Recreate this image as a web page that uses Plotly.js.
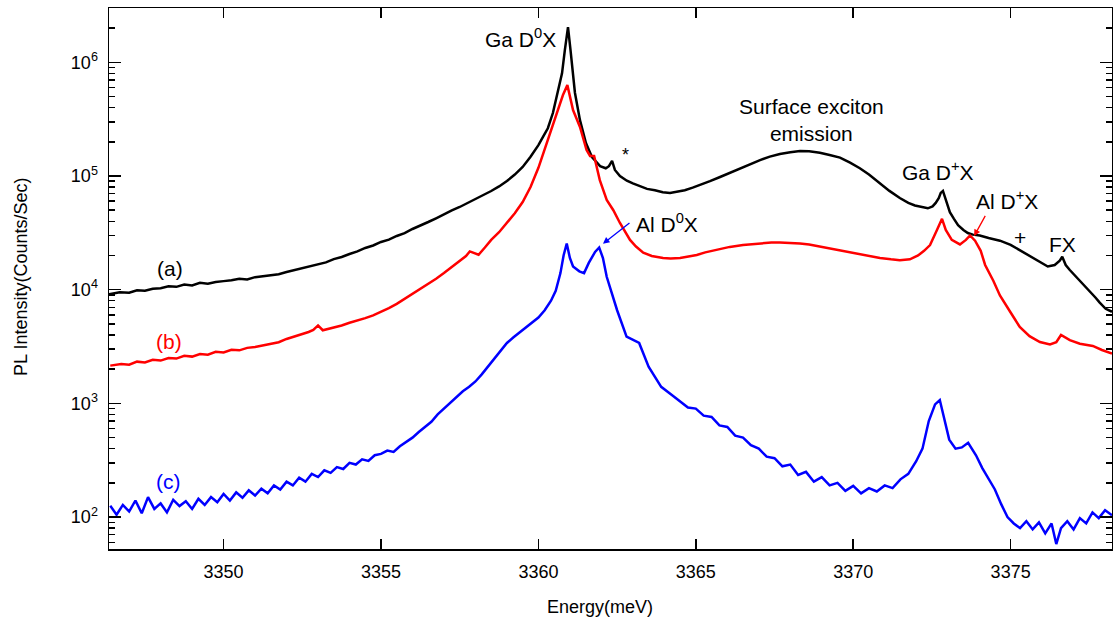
<!DOCTYPE html>
<html>
<head>
<meta charset="utf-8">
<script src="https://cdn.plot.ly/plotly-3.0.1.min.js"></script>
<style>html,body{margin:0;padding:0;background:#fff;}#chart{width:1113px;height:627px;}</style>
</head>
<body>
<div id="chart"></div>
<script>
// ---- Data (Energy in meV, PL intensity in counts/sec) ----
const energyA = [3346.36,3346.7,3347.0,3347.25,3347.5,3347.75,3348.0,3348.25,3348.5,3348.75,3349.0,3349.25,3349.5,3349.75,3350.0,3350.25,3350.5,3350.75,3351.0,3351.25,3351.5,3351.75,3352.0,3352.25,3352.5,3352.75,3353.0,3353.25,3353.5,3353.75,3354.0,3354.25,3354.5,3354.75,3355.0,3355.25,3355.5,3355.75,3356.0,3356.25,3356.5,3356.75,3357.0,3357.25,3357.5,3357.75,3358.0,3358.25,3358.5,3358.75,3359.0,3359.25,3359.5,3359.75,3360.0,3360.15,3360.30,3360.46,3360.62,3360.75,3360.84,3360.94,3361.02,3361.10,3361.16,3361.32,3361.51,3361.70,3361.96,3362.14,3362.24,3362.34,3362.43,3362.59,3362.81,3363.0,3363.22,3363.45,3363.70,3363.95,3364.18,3364.4,3364.65,3364.9,3365.13,3365.45,3365.77,3366.1,3366.40,3366.7,3367.04,3367.35,3367.67,3368.0,3368.31,3368.6,3368.94,3369.25,3369.58,3369.9,3370.21,3370.5,3370.85,3371.15,3371.48,3371.75,3371.96,3372.2,3372.37,3372.52,3372.62,3372.72,3372.78,3372.85,3372.94,3373.07,3373.2,3373.33,3373.5,3373.64,3373.8,3374.02,3374.3,3374.66,3375.0,3375.29,3375.6,3375.93,3376.18,3376.40,3376.56,3376.64,3376.75,3376.88,3377.05,3377.20,3377.35,3377.52,3377.7,3377.83,3378.02,3378.22];
const intensityA = [9100,9500,9400,9900,9800,10200,10300,10700,10600,11100,10900,11500,11300,11700,11900,12100,12500,12300,12900,13200,13500,13700,14300,14900,15500,16100,16800,17400,18600,19400,20600,21700,23300,24500,26300,27600,29700,31500,34200,36500,39400,42500,46300,49800,53400,57800,62800,67900,73800,81000,90300,103000,120000,148000,187000,222000,263000,358000,540000,800000,1280000,2040000,1280000,770000,540000,310000,195000,147000,122000,117000,122000,136000,113000,100000,91000,86000,82000,77000,75000,72000,71000,72500,75000,79000,83000,90000,98000,107000,117000,127000,138000,148000,156000,162000,166000,165000,160000,153000,145000,131000,117000,103000,86000,74000,64000,58000,55000,53000,52000,54000,58000,64000,71000,74000,61500,48000,42000,37000,33500,31500,30500,30000,28500,27000,24800,22300,20000,17500,16000,16500,18000,19500,16500,14900,13300,12000,10800,9600,8500,7700,6800,6400];

const energyB = [3346.4,3346.75,3347.0,3347.25,3347.5,3347.75,3348.0,3348.25,3348.5,3348.75,3349.0,3349.25,3349.5,3349.75,3350.0,3350.25,3350.5,3350.75,3351.0,3351.25,3351.5,3351.75,3352.0,3352.25,3352.5,3352.7,3352.85,3353.0,3353.15,3353.35,3353.5,3353.75,3354.0,3354.25,3354.5,3354.75,3355.0,3355.25,3355.5,3355.75,3356.0,3356.25,3356.5,3356.75,3357.0,3357.25,3357.5,3357.7,3357.82,3357.95,3358.1,3358.3,3358.5,3358.75,3359.0,3359.25,3359.5,3359.75,3360.0,3360.21,3360.43,3360.62,3360.78,3360.92,3361.0,3361.1,3361.32,3361.53,3361.64,3361.77,3361.95,3362.17,3362.38,3362.59,3362.91,3363.1,3363.33,3363.6,3363.96,3364.2,3364.50,3364.75,3365.03,3365.3,3365.6,3366.08,3366.5,3367.04,3367.4,3367.67,3368.0,3368.31,3368.6,3368.94,3369.4,3369.89,3370.35,3370.85,3371.2,3371.48,3371.8,3372.06,3372.25,3372.44,3372.66,3372.82,3372.94,3373.13,3373.39,3373.58,3373.71,3373.87,3374.05,3374.19,3374.45,3374.66,3375.0,3375.29,3375.6,3375.93,3376.25,3376.45,3376.6,3376.75,3376.88,3377.2,3377.61,3377.9,3378.22];
const intensityB = [2150,2220,2190,2330,2290,2420,2380,2510,2480,2620,2580,2720,2680,2840,2810,2960,2930,3080,3140,3240,3330,3450,3690,3870,4100,4250,4430,4850,4400,4550,4620,4850,5120,5350,5630,5950,6370,6900,7500,8300,9170,10100,11200,12500,14000,15800,17900,19800,21700,21000,20300,23500,27400,32000,38600,47000,59000,80000,118000,176000,263000,380000,515000,630000,515000,380000,270000,169000,150000,150000,92000,61500,50000,38600,27400,24000,21200,19800,19000,18800,19000,19600,20200,21300,22300,23800,24700,25500,26000,26000,25800,25500,25000,24000,22700,21500,20200,19000,18500,18200,18500,20000,22000,24700,33500,42000,33500,27400,25000,27400,30000,27000,22000,16500,12000,8900,6300,4700,3900,3470,3300,3450,4000,3800,3600,3350,3200,2950,2750];

const energyC = [3346.4,3346.6,3346.8,3347.0,3347.2,3347.4,3347.6,3347.8,3348.0,3348.2,3348.4,3348.6,3348.8,3349.0,3349.2,3349.4,3349.6,3349.8,3350.0,3350.2,3350.4,3350.6,3350.8,3351.0,3351.2,3351.4,3351.6,3351.8,3352.0,3352.2,3352.4,3352.6,3352.8,3353.0,3353.2,3353.4,3353.6,3353.8,3354.0,3354.2,3354.4,3354.6,3354.8,3355.0,3355.2,3355.4,3355.6,3355.8,3356.0,3356.2,3356.4,3356.6,3356.8,3357.0,3357.2,3357.4,3357.6,3357.8,3358.0,3358.2,3358.4,3358.6,3358.8,3359.0,3359.2,3359.4,3359.6,3359.8,3360.0,3360.2,3360.4,3360.55,3360.7,3360.8,3360.9,3361.0,3361.1,3361.3,3361.45,3361.6,3361.8,3361.93,3362.05,3362.17,3362.5,3362.8,3363.2,3363.5,3363.9,3364.3,3364.5,3364.75,3365.0,3365.25,3365.5,3365.75,3366.0,3366.25,3366.5,3366.75,3367.0,3367.25,3367.5,3367.75,3368.0,3368.25,3368.5,3368.75,3369.0,3369.25,3369.5,3369.75,3370.0,3370.25,3370.5,3370.75,3371.0,3371.25,3371.5,3371.75,3372.0,3372.2,3372.4,3372.6,3372.75,3372.9,3373.05,3373.25,3373.45,3373.65,3373.9,3374.1,3374.3,3374.5,3374.7,3374.9,3375.1,3375.3,3375.5,3375.7,3375.9,3376.1,3376.3,3376.45,3376.6,3376.8,3377.0,3377.2,3377.4,3377.6,3377.8,3378.0,3378.22];
const intensityC = [126,105,128,112,140,108,150,118,132,110,142,125,138,118,145,128,150,135,160,140,165,148,172,155,178,162,190,175,205,190,222,205,240,225,258,245,275,265,300,290,322,312,350,360,385,375,420,460,500,560,620,690,800,900,1010,1130,1280,1400,1560,1800,2100,2450,2900,3400,3800,4200,4600,5100,5700,6600,8000,9800,14000,20000,25500,19000,16000,14500,14000,17200,21500,23500,19000,13000,6600,3860,3400,2100,1400,1150,1050,920,900,780,760,640,620,520,500,430,400,340,330,280,290,235,250,205,225,190,200,170,188,162,180,168,190,180,215,240,310,400,700,980,1070,720,480,400,410,450,350,270,215,175,130,100,88,80,92,78,90,72,88,58,80,92,78,98,88,110,98,115,104];

const seriesLabels = ['(a)', '(b)', '(c)'];
const seriesColors = ['#000000', '#ff0000', '#0000ff'];
const xTickVals = [3350, 3355, 3360, 3365, 3370, 3375];
const yTickVals = [100, 1000, 10000, 100000, 1000000];
const yTickText = ['10<sup>2</sup>', '10<sup>3</sup>', '10<sup>4</sup>', '10<sup>5</sup>', '10<sup>6</sup>'];

// minor log ticks 2..9 per decade
const minorVals = [];
for (let k = 1; k <= 6; k++) for (let m = 2; m <= 9; m++) minorVals.push(m * Math.pow(10, k));

const FONT = 'Liberation Sans, Arial, Helvetica, sans-serif';
const L = v => Math.log10(v);

const traces = [
  {x: energyA, y: intensityA, mode: 'lines', line: {color: seriesColors[0], width: 2.5}, hoverinfo: 'skip'},
  {x: energyB, y: intensityB, mode: 'lines', line: {color: seriesColors[1], width: 2.5}, hoverinfo: 'skip'},
  {x: energyC, y: intensityC, mode: 'lines', line: {color: seriesColors[2], width: 2.5}, hoverinfo: 'skip'}
];

const txt = (x, y, text, color, size) => ({x: x, y: L(y), xref: 'x', yref: 'y', text: text, showarrow: false,
  font: {family: FONT, size: size || 21, color: color || '#000'}, xanchor: 'center', yanchor: 'middle'});

const annotations = [
  txt(3359.42, 1.62e6, 'Ga D<sup>0</sup>X'),
  txt(3362.78, 1.53e5, '*', '#000', 18),
  txt(3368.69, 3.1e5, 'Surface exciton<br>emission'),
  txt(3372.7, 1.1e5, 'Ga D<sup>+</sup>X'),
  txt(3374.89, 6.1e4, 'Al D<sup>+</sup>X'),
  txt(3375.29, 2.9e4, '+'),
  txt(3376.66, 2.5e4, 'FX'),
  txt(3364.1, 3.9e4, 'Al D<sup>0</sup>X'),
  txt(3348.3, 1.53e4, seriesLabels[0], seriesColors[0]),
  txt(3348.26, 3.5e3, seriesLabels[1], seriesColors[1]),
  txt(3348.26, 205, seriesLabels[2], seriesColors[2]),
  {x: 3362.05, y: L(2.54e4), ax: 3362.94, ay: L(3.95e4), xref: 'x', yref: 'y', axref: 'x', ayref: 'y',
   text: '', showarrow: true, arrowhead: 2, arrowsize: 1, arrowwidth: 1.3, arrowcolor: seriesColors[2]},
  {x: 3373.84, y: L(2.96e4), ax: 3374.22, ay: L(4.6e4), xref: 'x', yref: 'y', axref: 'x', ayref: 'y',
   text: '', showarrow: true, arrowhead: 2, arrowsize: 1, arrowwidth: 1.3, arrowcolor: seriesColors[1]},
  {x: -0.0877, y: 0.503, xref: 'paper', yref: 'paper', text: 'PL Intensity(Counts/Sec)', textangle: -90,
   showarrow: false, font: {family: FONT, size: 18, color: '#000'}, xanchor: 'center', yanchor: 'middle'},
  {x: 0.4895, y: -0.107, xref: 'paper', yref: 'paper', text: 'Energy(meV)',
   showarrow: false, font: {family: FONT, size: 18, color: '#000'}, xanchor: 'center', yanchor: 'middle'}
];

const layout = {
  width: 1113, height: 627,
  margin: {l: 109, r: 1, t: 8, b: 78},
  paper_bgcolor: '#fff', plot_bgcolor: '#fff',
  showlegend: false,
  font: {family: FONT, size: 18, color: '#000'},
  xaxis: {
    range: [3346.36, 3378.22], tickmode: 'array', tickvals: xTickVals,
    ticks: 'inside', ticklen: 10, tickwidth: 1.5, tickcolor: '#000',
    showline: true, linecolor: '#000', linewidth: 1.5, mirror: 'allticks',
    showgrid: false, zeroline: false, tickfont: {family: FONT, size: 18},
    ticklabelstandoff: 6
  },
  yaxis: {
    type: 'log', range: [1.7196, 6.4776], tickmode: 'array', tickvals: yTickVals, ticktext: yTickText,
    ticks: 'inside', ticklen: 12, tickwidth: 1.5, tickcolor: '#000',
    minor: {tickmode: 'array', tickvals: minorVals, ticks: 'inside', ticklen: 6, tickwidth: 1.5, tickcolor: '#000', showgrid: false},
    showline: true, linecolor: '#000', linewidth: 1.5, mirror: 'allticks',
    showgrid: false, zeroline: false, tickfont: {family: FONT, size: 18},
    ticklabelstandoff: 6
  },
  annotations: annotations
};

Plotly.newPlot('chart', traces, layout, {staticPlot: true, displayModeBar: false});
</script>
</body>
</html>
